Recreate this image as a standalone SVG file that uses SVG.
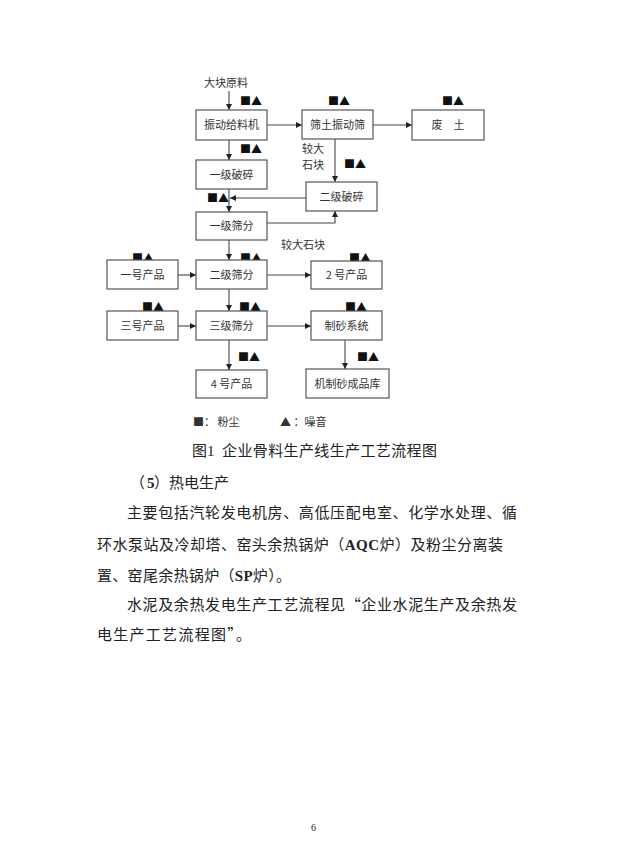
<svg xmlns="http://www.w3.org/2000/svg" width="627" height="858" viewBox="0 0 627 858">
<defs>
<marker id="ah" viewBox="0 0 8 8" refX="8" refY="4" markerWidth="6" markerHeight="6" orient="auto" markerUnits="userSpaceOnUse">
<path d="M0,0 L8,4 L0,8 z" fill="#222"/>
</marker>
<style>
.box{fill:#fff;stroke:#555;stroke-width:1.2}
.bt{font-family:"Noto Sans CJK SC","Liberation Sans",sans-serif;font-size:11px;fill:#333;text-anchor:middle}
.lb{font-family:"Noto Sans CJK SC","Liberation Sans",sans-serif;font-size:11px;fill:#333}
.sym{font-family:"Noto Sans CJK SC","DejaVu Sans",sans-serif;font-size:11px;fill:#111}
.ar{fill:none;stroke:#444;stroke-width:1.1;marker-end:url(#ah)}
.body{font-family:"Noto Sans CJK SC","Liberation Serif",sans-serif;font-size:15px;fill:#222}
.lat{font-family:"Liberation Serif",serif;font-weight:bold}
</style>
</defs>
<rect width="627" height="858" fill="#fff"/>

<g id="symbols">
<text class="sym" x="240" y="105">■▲</text>
<text class="sym" x="328" y="105">■▲</text>
<text class="sym" x="442" y="105">■▲</text>
<text class="sym" x="240" y="153">■▲</text>
<text class="sym" x="344" y="168">■▲</text>
<text class="sym" x="207" y="202">■▲</text>
<text class="sym" x="240" y="262">■▲</text>
<text class="sym" x="132" y="262">■▲</text>
<text class="sym" x="349" y="262">■▲</text>
<text class="sym" x="142" y="311">■▲</text>
<text class="sym" x="239" y="311">■▲</text>
<text class="sym" x="345" y="311">■▲</text>
<text class="sym" x="238" y="361">■▲</text>
<text class="sym" x="357" y="361">■▲</text>
</g>

<g id="connectors">
<line class="ar" x1="229" y1="91" x2="229" y2="110"/>
<line class="ar" x1="267" y1="125" x2="302" y2="125"/>
<line class="ar" x1="373" y1="125" x2="412" y2="125"/>
<line class="ar" x1="229" y1="140" x2="229" y2="160"/>
<line class="ar" x1="335" y1="139" x2="335" y2="182"/>
<line class="ar" x1="229" y1="189" x2="229" y2="212"/>
<line class="ar" x1="306" y1="198" x2="230" y2="198"/>
<polyline class="ar" points="267,223 335,223 335,211"/>
<line class="ar" x1="229" y1="240" x2="229" y2="260"/>
<line class="ar" x1="178" y1="275" x2="196" y2="275"/>
<line class="ar" x1="267" y1="275" x2="311" y2="275"/>
<line class="ar" x1="229" y1="289" x2="229" y2="311"/>
<line class="ar" x1="178" y1="326" x2="196" y2="326"/>
<line class="ar" x1="267" y1="326" x2="311" y2="326"/>
<line class="ar" x1="229" y1="340" x2="229" y2="370"/>
<line class="ar" x1="345" y1="340" x2="345" y2="369"/>
</g>

<g id="n-input"><text class="lb" x="204" y="87">大块原料</text></g>
<g id="n-feeder"><rect class="box" x="196" y="110" width="71" height="30"/><text class="bt" x="231.5" y="129">振动给料机</text></g>
<g id="n-screen0"><rect class="box" x="302" y="110" width="71" height="29"/><text class="bt" x="337.5" y="129">筛土振动筛</text></g>
<g id="n-waste"><rect class="box" x="412" y="110" width="72" height="30"/><text class="bt" x="448" y="129">废　土</text></g>
<g id="n-crush1"><rect class="box" x="196" y="160" width="71" height="29"/><text class="bt" x="231.5" y="179">一级破碎</text></g>
<g id="n-label1"><text class="lb" x="302" y="153">较大</text><text class="lb" x="302" y="169">石块</text></g>
<g id="n-crush2"><rect class="box" x="306" y="182" width="71" height="29"/><text class="bt" x="341.5" y="201">二级破碎</text></g>
<g id="n-screen1"><rect class="box" x="196" y="212" width="71" height="28"/><text class="bt" x="231.5" y="230">一级筛分</text></g>
<g id="n-label2"><text class="lb" x="281" y="249">较大石块</text></g>
<g id="n-p1"><rect class="box" x="107" y="260" width="71" height="29"/><text class="bt" x="142.5" y="279">一号产品</text></g>
<g id="n-screen2"><rect class="box" x="196" y="260" width="71" height="29"/><text class="bt" x="231.5" y="279">二级筛分</text></g>
<g id="n-p2"><rect class="box" x="311" y="261" width="71" height="28"/><text class="bt" x="346.5" y="279">2 号产品</text></g>
<g id="n-p3"><rect class="box" x="107" y="311" width="71" height="29"/><text class="bt" x="142.5" y="330">三号产品</text></g>
<g id="n-screen3"><rect class="box" x="196" y="311" width="71" height="29"/><text class="bt" x="231.5" y="330">三级筛分</text></g>
<g id="n-sand"><rect class="box" x="311" y="311" width="71" height="29"/><text class="bt" x="346.5" y="330">制砂系统</text></g>
<g id="n-p4"><rect class="box" x="196" y="370" width="71" height="28"/><text class="bt" x="231.5" y="388">4 号产品</text></g>
<g id="n-store"><rect class="box" x="306" y="369" width="83" height="29"/><text class="bt" x="347.5" y="388">机制砂成品库</text></g>

<g id="legend">
<text class="lb" x="193" y="426">■：  粉尘</text>
<text class="lb" x="280" y="426">▲ ：噪音</text>
</g>

<g id="text">
<text class="body" x="192" y="456">图<tspan style="font-family:'Liberation Serif',serif">1</tspan></text>
<text class="body" x="222" y="456" textLength="215" lengthAdjust="spacing">企业骨料生产线生产工艺流程图</text>
<text class="body" x="130" y="488">（</text>
<text class="body lat" x="147" y="488">5</text>
<text class="body" x="154" y="488">）热电生产</text>
<text class="body" x="127" y="518" textLength="390" lengthAdjust="spacing">主要包括汽轮发电机房、高低压配电室、化学水处理、循</text>
<text class="body" x="97" y="550" textLength="406" lengthAdjust="spacing">环水泵站及冷却塔、窑头余热锅炉（<tspan class="lat">AQC</tspan>炉）及粉尘分离装</text>
<text class="body" x="97" y="581" textLength="194" lengthAdjust="spacing">置、窑尾余热锅炉（<tspan class="lat">SP</tspan>炉）。</text>
<text class="body" x="127" y="610" textLength="390" lengthAdjust="spacing">水泥及余热发电生产工艺流程见“企业水泥生产及余热发</text>
<text class="body" x="97" y="640" textLength="154" lengthAdjust="spacing">电生产工艺流程图”。</text>
<text x="311" y="831" style="font-family:'Liberation Serif',serif;font-size:10px;fill:#222">6</text>
</g>
</svg>
